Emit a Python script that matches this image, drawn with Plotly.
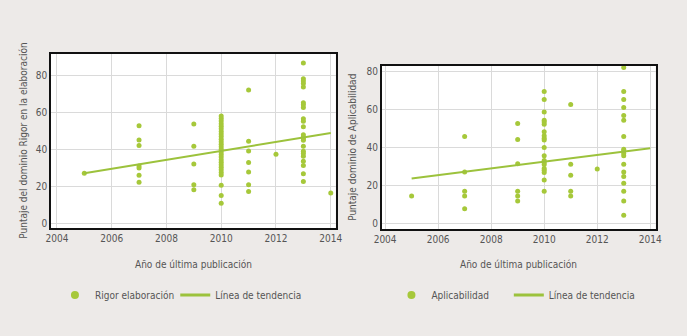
import plotly.graph_objects as go

# ---------------- data ----------------
rigor_years = ([2005] + [2007]*7 + [2009]*5 + [2010]*27 + [2011]*7 + [2012] + [2013]*23 + [2014])
rigor_vals = ([27.3]
              + [53.1, 45.3, 42.4, 31.2, 30.2, 26.2, 22.4]
              + [54.0, 41.9, 32.3, 21.1, 18.4]
              + [58.3, 57.0, 55.6, 54.2, 52.8, 51.4, 50.0, 48.6, 47.2, 45.8, 44.4, 43.0, 41.7,
                 40.3, 38.9, 37.5, 36.1, 34.7, 33.3, 31.9, 30.6, 29.2, 27.8, 26.4, 20.8, 15.3, 11.1]
              + [72.4, 44.6, 39.4, 33.2, 28.0, 21.1, 17.5]
              + [37.6]
              + [87.1, 78.5, 77.3, 76.0, 74.1, 65.5, 64.4, 62.9, 56.8, 55.5, 52.5, 48.2, 47.0, 46.0,
                 45.2, 42.0, 39.3, 38.0, 36.6, 33.8, 31.5, 27.0, 22.9]
              + [16.6])
rigor_trend_x = [2005, 2014]
rigor_trend_y = [27.3, 49.1]

aplic_years = ([2005] + [2007]*5 + [2009]*6 + [2010]*20 + [2011]*5 + [2012] + [2013]*18)
aplic_vals = ([14.4]
              + [45.8, 27.1, 16.9, 14.4, 7.6]
              + [52.7, 44.2, 31.4, 16.9, 14.4, 11.8]
              + [69.6, 65.4, 58.7, 54.4, 53.4, 52.3, 48.3, 46.2, 44.9, 43.9, 40.0, 35.6, 33.1,
                 32.1, 31.0, 28.9, 28.0, 26.8, 22.9, 16.9]
              + [62.7, 31.2, 25.4, 16.9, 14.4]
              + [28.7]
              + [82.3, 69.6, 65.4, 61.1, 56.9, 54.4, 45.8, 39.1, 38.1, 36.8, 35.6, 31.2, 27.1,
                 24.7, 21.1, 16.9, 11.8, 4.2])
aplic_trend_x = [2005, 2014]
aplic_trend_y = [23.6, 39.6]

x_ticks = [2004, 2006, 2008, 2010, 2012, 2014]
y_ticks = [0, 20, 40, 60, 80]

series_names = ["Rigor elaboración", "Línea de tendencia", "Aplicabilidad", "Línea de tendencia"]

# ---------------- style ----------------
W, H = 687, 336
BG = "#EDEAE8"
DOT = "#A6C83A"
LINE = "#9CC23C"
TXT = "#555555"
FONT = "DejaVu Sans Condensed, Lato, sans-serif"

def px_x(p):
    return p / W

def px_y(p):
    return 1 - p / H

fig = go.Figure()
# data traces
fig.add_trace(go.Scatter(x=rigor_years, y=rigor_vals, mode="markers", showlegend=False,
                         marker=dict(color=DOT, size=5), xaxis="x", yaxis="y"))
fig.add_trace(go.Scatter(x=rigor_trend_x, y=rigor_trend_y, mode="lines", showlegend=False,
                         line=dict(color=LINE, width=2), xaxis="x", yaxis="y"))
fig.add_trace(go.Scatter(x=aplic_years, y=aplic_vals, mode="markers", showlegend=False,
                         marker=dict(color=DOT, size=5), xaxis="x2", yaxis="y2"))
fig.add_trace(go.Scatter(x=aplic_trend_x, y=aplic_trend_y, mode="lines", showlegend=False,
                         line=dict(color=LINE, width=2), xaxis="x2", yaxis="y2"))

# legend entries (one legend per entry for placement)
fig.add_trace(go.Scatter(x=[None], y=[None], mode="markers", name=series_names[0],
                         marker=dict(color=DOT, size=8), xaxis="x", yaxis="y", legend="legend"))
fig.add_trace(go.Scatter(x=[None], y=[None], mode="lines", name=series_names[1],
                         line=dict(color=LINE, width=3), xaxis="x", yaxis="y", legend="legend2"))
fig.add_trace(go.Scatter(x=[None], y=[None], mode="markers", name=series_names[2],
                         marker=dict(color=DOT, size=8), xaxis="x2", yaxis="y2", legend="legend3"))
fig.add_trace(go.Scatter(x=[None], y=[None], mode="lines", name=series_names[3],
                         line=dict(color=LINE, width=3), xaxis="x2", yaxis="y2", legend="legend4"))

axis_common = dict(showgrid=True, gridcolor="#DADADA", gridwidth=1, zeroline=False,
                   showline=True, linecolor="#111111", linewidth=1.5, mirror=True,
                   ticks="", tickfont=dict(family=FONT, size=10, color=TXT))

def leg(xpix):
    return dict(orientation="h", x=px_x(xpix), y=px_y(296), xanchor="left", yanchor="middle",
                bgcolor="rgba(0,0,0,0)", font=dict(family=FONT, size=10, color=TXT))

fig.update_layout(
    width=W, height=H, margin=dict(l=0, r=0, t=0, b=0),
    paper_bgcolor=BG, plot_bgcolor="white",
    font=dict(family=FONT, size=10, color=TXT),
    xaxis=dict(domain=[px_x(44), px_x(335)], range=[2003.786, 2014.18], tickvals=x_ticks,
               anchor="y", **axis_common),
    yaxis=dict(domain=[px_y(229), px_y(54)], range=[-2.5, 92.0], tickvals=y_ticks,
               anchor="x", **axis_common),
    xaxis2=dict(domain=[px_x(382), px_x(662)], range=[2003.87, 2014.2], tickvals=x_ticks,
                anchor="y2", **axis_common),
    yaxis2=dict(domain=[px_y(230), px_y(65.7)], range=[-3.2, 83.3], tickvals=y_ticks,
                anchor="x2", **axis_common),
    legend=leg(48), legend2=leg(171), legend3=leg(392), legend4=leg(512),
    showlegend=True,
)

ann = [
    dict(text="Año de última publicación", x=px_x(189.5), y=px_y(265)),
    dict(text="Año de última publicación", x=px_x(522), y=px_y(265)),
    dict(text="Puntaje del dominio Rigor en la elaboración", x=px_x(15), y=px_y(141.5), textangle=-90),
    dict(text="Puntaje dominio de Aplicabilidad", x=px_x(352), y=px_y(148), textangle=-90),
]
for a in ann:
    fig.add_annotation(xref="paper", yref="paper", showarrow=False, xanchor="center", yanchor="middle",
                       font=dict(family=FONT, size=10, color=TXT), **a)

fig.write_html("out.html")
